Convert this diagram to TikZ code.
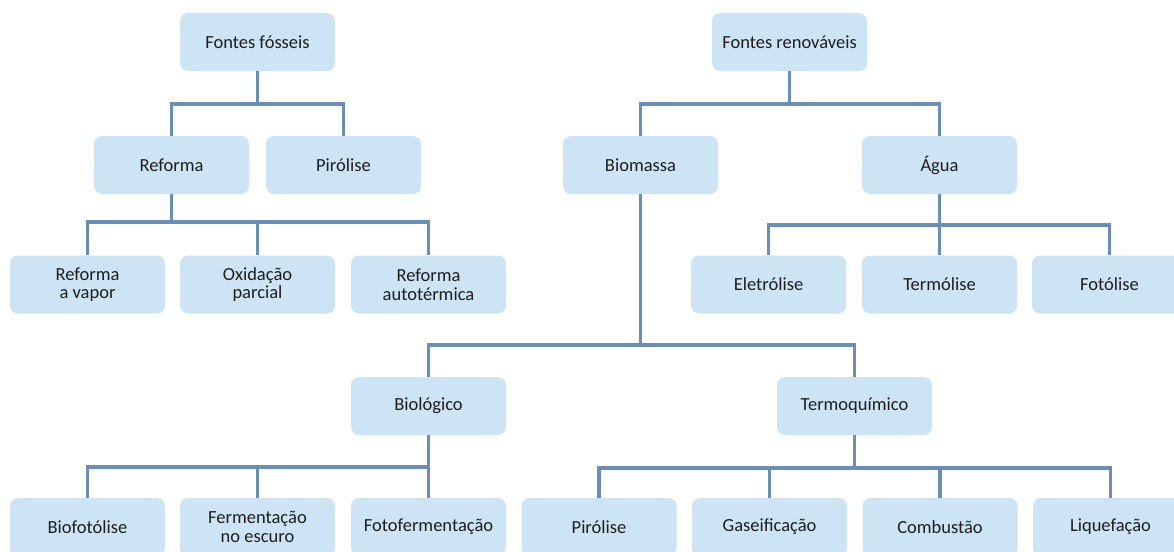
\documentclass[tikz,border=0pt]{standalone}
\usepackage{fontspec}
\setmainfont{Carlito}
\definecolor{boxfill}{HTML}{CDE4F5}
\definecolor{linec}{HTML}{6A8EBC}
\definecolor{txt}{HTML}{1E1E1E}
\begin{document}
\begin{tikzpicture}[x=1pt,y=-1pt,
  box/.style={fill=boxfill,draw=none,rounded corners=8pt,minimum width=155pt,minimum height=58pt,inner sep=0pt,align=center,text=txt,font=\fontsize{18.5}{18.5}\selectfont},
  conn/.style={draw=linec,line width=3.8pt,line join=miter}]
\useasboundingbox (0,0) rectangle (1174,551);
\clip (0,0) rectangle (1174,551);
% Fossil side
\node[box] (ff) at (257.5,42) {Fontes fósseis};
\node[box] (ref) at (171.5,165) {Reforma};
\node[box] (pir1) at (343.5,165) {Pirólise};
\node[box] (rv) at (87.5,284.5) {Reforma\\a vapor};
\node[box] (ox) at (257.5,284.5) {Oxidação\\parcial};
\node[box] (ra) at (428.5,284.5) {Reforma\\autotérmica};
% Renewable side
\node[box] (fr) at (789.5,42) {Fontes renováveis};
\node[box] (bio) at (640.5,165) {Biomassa};
\node[box] (agua) at (939.5,165) {Água};
\node[box] (ele) at (768.5,284.5) {Eletrólise};
\node[box] (ter) at (939.5,284.5) {Termólise};
\node[box] (fot) at (1109.5,284.5) {Fotólise};
\node[box] (biol) at (428.5,406) {Biológico};
\node[box] (termo) at (854.5,406) {Termoquímico};
\node[box] (biof) at (87.5,527) {Biofotólise};
\node[box] (ferm) at (257.5,527) {Fermentação\\no escuro};
\node[box] (fotf) at (428.5,527) {Fotofermentação};
\node[box] (pir2) at (599,527) {Pirólise};
\node[box] (gas) at (769.5,527) {Gaseificação};
\node[box] (comb) at (940,527) {Combustão};
\node[box] (liq) at (1110.5,527) {Liquefação};
% connectors
\foreach \c in {ref,pir1} \draw[conn] (ff.south) -- ++(0,33) -| (\c.north);
\foreach \c in {rv,ox,ra} \draw[conn] (ref.south) -- ++(0,28) -| (\c.north);
\foreach \c in {bio,agua} \draw[conn] (fr.south) -- ++(0,33) -| (\c.north);
\foreach \c in {ele,ter,fot} \draw[conn] (agua.south) -- ++(0,31) -| (\c.north);
\foreach \c in {biol,termo} \draw[conn] (bio.south) -- ++(0,151) -| (\c.north);
\foreach \c in {biof,ferm,fotf} \draw[conn] (biol.south) -- ++(0,32) -| (\c.north);
\foreach \c in {pir2,gas,comb,liq} \draw[conn] (termo.south) -- ++(0,33) -| (\c.north);
\end{tikzpicture}
\end{document}
